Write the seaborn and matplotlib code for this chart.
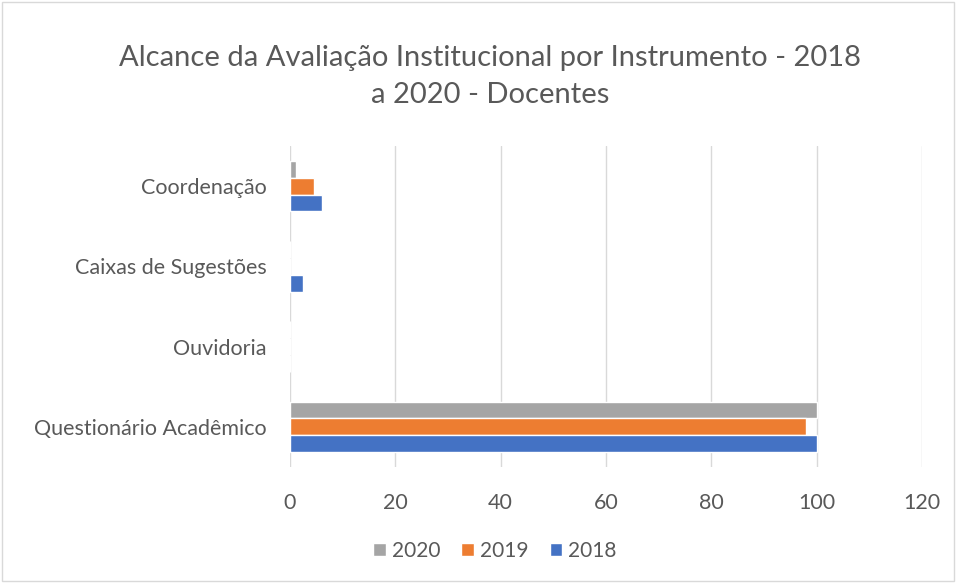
import matplotlib
matplotlib.use("Agg")
import matplotlib.pyplot as plt
import seaborn as sns
import pandas as pd
from matplotlib.patches import Rectangle

categories = ["Coordenação", "Caixas de Sugestões", "Ouvidoria", "Questionário Acadêmico"]
years = ["2020", "2019", "2018"]
values_2020 = [1.1, 0, 0, 100]
values_2019 = [4.6, 0, 0, 98]
values_2018 = [6.0, 2.4, 0, 100]
colors = {"2020": "#A5A5A5", "2019": "#ED7D31", "2018": "#4472C4"}

rows = []
for y, vals in zip(years, [values_2020, values_2019, values_2018]):
    for c, v in zip(categories, vals):
        rows.append({"Instrumento": c, "Ano": y, "Valor": v})
df = pd.DataFrame(rows)

sns.set_theme(style="white")
plt.rcParams["font.family"] = ["Lato", "DejaVu Sans"]
text_color = "#595959"

fig = plt.figure(figsize=(9.56, 5.83), dpi=100)
ax = fig.add_axes([290/956, 1-467/583, (922-290)/956, (467-146)/583])

sns.barplot(data=df, y="Instrumento", x="Valor", hue="Ano", order=categories,
            hue_order=years, palette=colors, orient="h", width=0.63,
            saturation=1, ax=ax, legend=True)

ax.set_ylim(3.5, -0.5)
ax.set_xlim(0, 120)
ax.set_xticks(range(0, 121, 20))
ax.grid(axis="x", color="#D9D9D9", linewidth=1)
ax.set_axisbelow(True)
for s in ax.spines.values():
    s.set_visible(False)
ax.set_xlabel("")
ax.set_ylabel("")
ax.tick_params(axis="both", length=0, labelsize=15.5, labelcolor=text_color)
ax.tick_params(axis="x", pad=19)
ax.tick_params(axis="y", pad=17)

handles, labels = ax.get_legend_handles_labels()
ax.get_legend().remove()
fig.legend(handles, labels, loc="center", bbox_to_anchor=(495/956, 1-551/583),
           ncol=3, frameon=False, fontsize=15, labelcolor=text_color,
           handlelength=0.6, handleheight=0.6, handletextpad=0.3, columnspacing=1.0)

fig.text(490/956, 1-58/583, "Alcance da Avaliação Institucional por Instrumento - 2018", ha="center",
         va="center", fontsize=21, color=text_color)
fig.text(490/956, 1-95/583, "a 2020 - Docentes", ha="center", va="center",
         fontsize=21, color=text_color)

fig.patches.append(Rectangle((2/956, 2/583), 1-4/956, 1-4/583, transform=fig.transFigure,
                             fill=False, edgecolor="#D9D9D9", linewidth=1))

fig.savefig("out.png", dpi=100, facecolor="white")
